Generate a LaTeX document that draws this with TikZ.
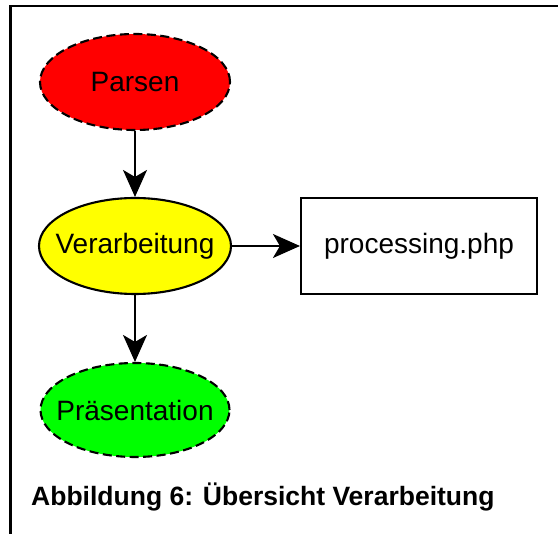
\documentclass[tikz,border=0pt]{standalone}
\usepackage{fontspec}
\setmainfont{Liberation Sans}
\usetikzlibrary{shapes.geometric,arrows.meta}

\tikzset{
  nodetext/.style={font=\fontsize{28}{32}\selectfont, inner sep=0pt},
  stage/.style={ellipse, draw=black, line width=2.1pt, inner sep=0pt},
  dashedstage/.style={stage, dash pattern=on 9pt off 4.5pt},
  filebox/.style={rectangle, draw=black, line width=2.1pt, inner sep=0pt,
    minimum width=236pt, minimum height=96pt, font=\fontsize{28}{32}\selectfont},
  flow/.style={line width=2.1pt, -{Stealth[length=27pt, width=24pt, inset=7pt]}},
  frameline/.style={line width=2.2pt, line cap=rect},
}

\begin{document}
\begin{tikzpicture}[x=1pt, y=-1pt]
  \useasboundingbox (0,0) rectangle (558,534);

  % frame: top and left edges
  \coordinate (ftl) at (10.5,6);
  \coordinate (ftr) at (558,6);
  \coordinate (fbl) at (10.5,534);
  \draw[frameline] (ftr) -- (ftl) -- (fbl);

  % processing stages (fixed size, text placed as centre labels)
  \node[dashedstage, fill={rgb,255:red,255;green,0;blue,0},
        minimum width=190pt, minimum height=96pt,
        label={[nodetext]center:Parsen}] (parse) at (135,82) {};
  \node[stage, fill={rgb,255:red,255;green,255;blue,0},
        minimum width=192pt, minimum height=96pt,
        label={[nodetext]center:Verarbeitung}] (proc) at (135,246) {};
  \node[dashedstage, fill={rgb,255:red,0;green,255;blue,0},
        minimum width=189pt, minimum height=94pt,
        label={[nodetext]center:Präsentation}] (pres) at (135,410) {};

  % implementing file
  \node[filebox] (php) at (419,246) {processing.php};

  % connectors
  \draw[flow] (parse) -- (proc);
  \draw[flow] (proc) -- (pres);
  \draw[flow] (proc) -- (php);

  % caption
  \node[anchor=west, inner sep=0pt, font=\bfseries\fontsize{26.5}{30}\selectfont]
    (caption) at (31,497) {Abbildung 6: Übersicht Verarbeitung};
\end{tikzpicture}
\end{document}
